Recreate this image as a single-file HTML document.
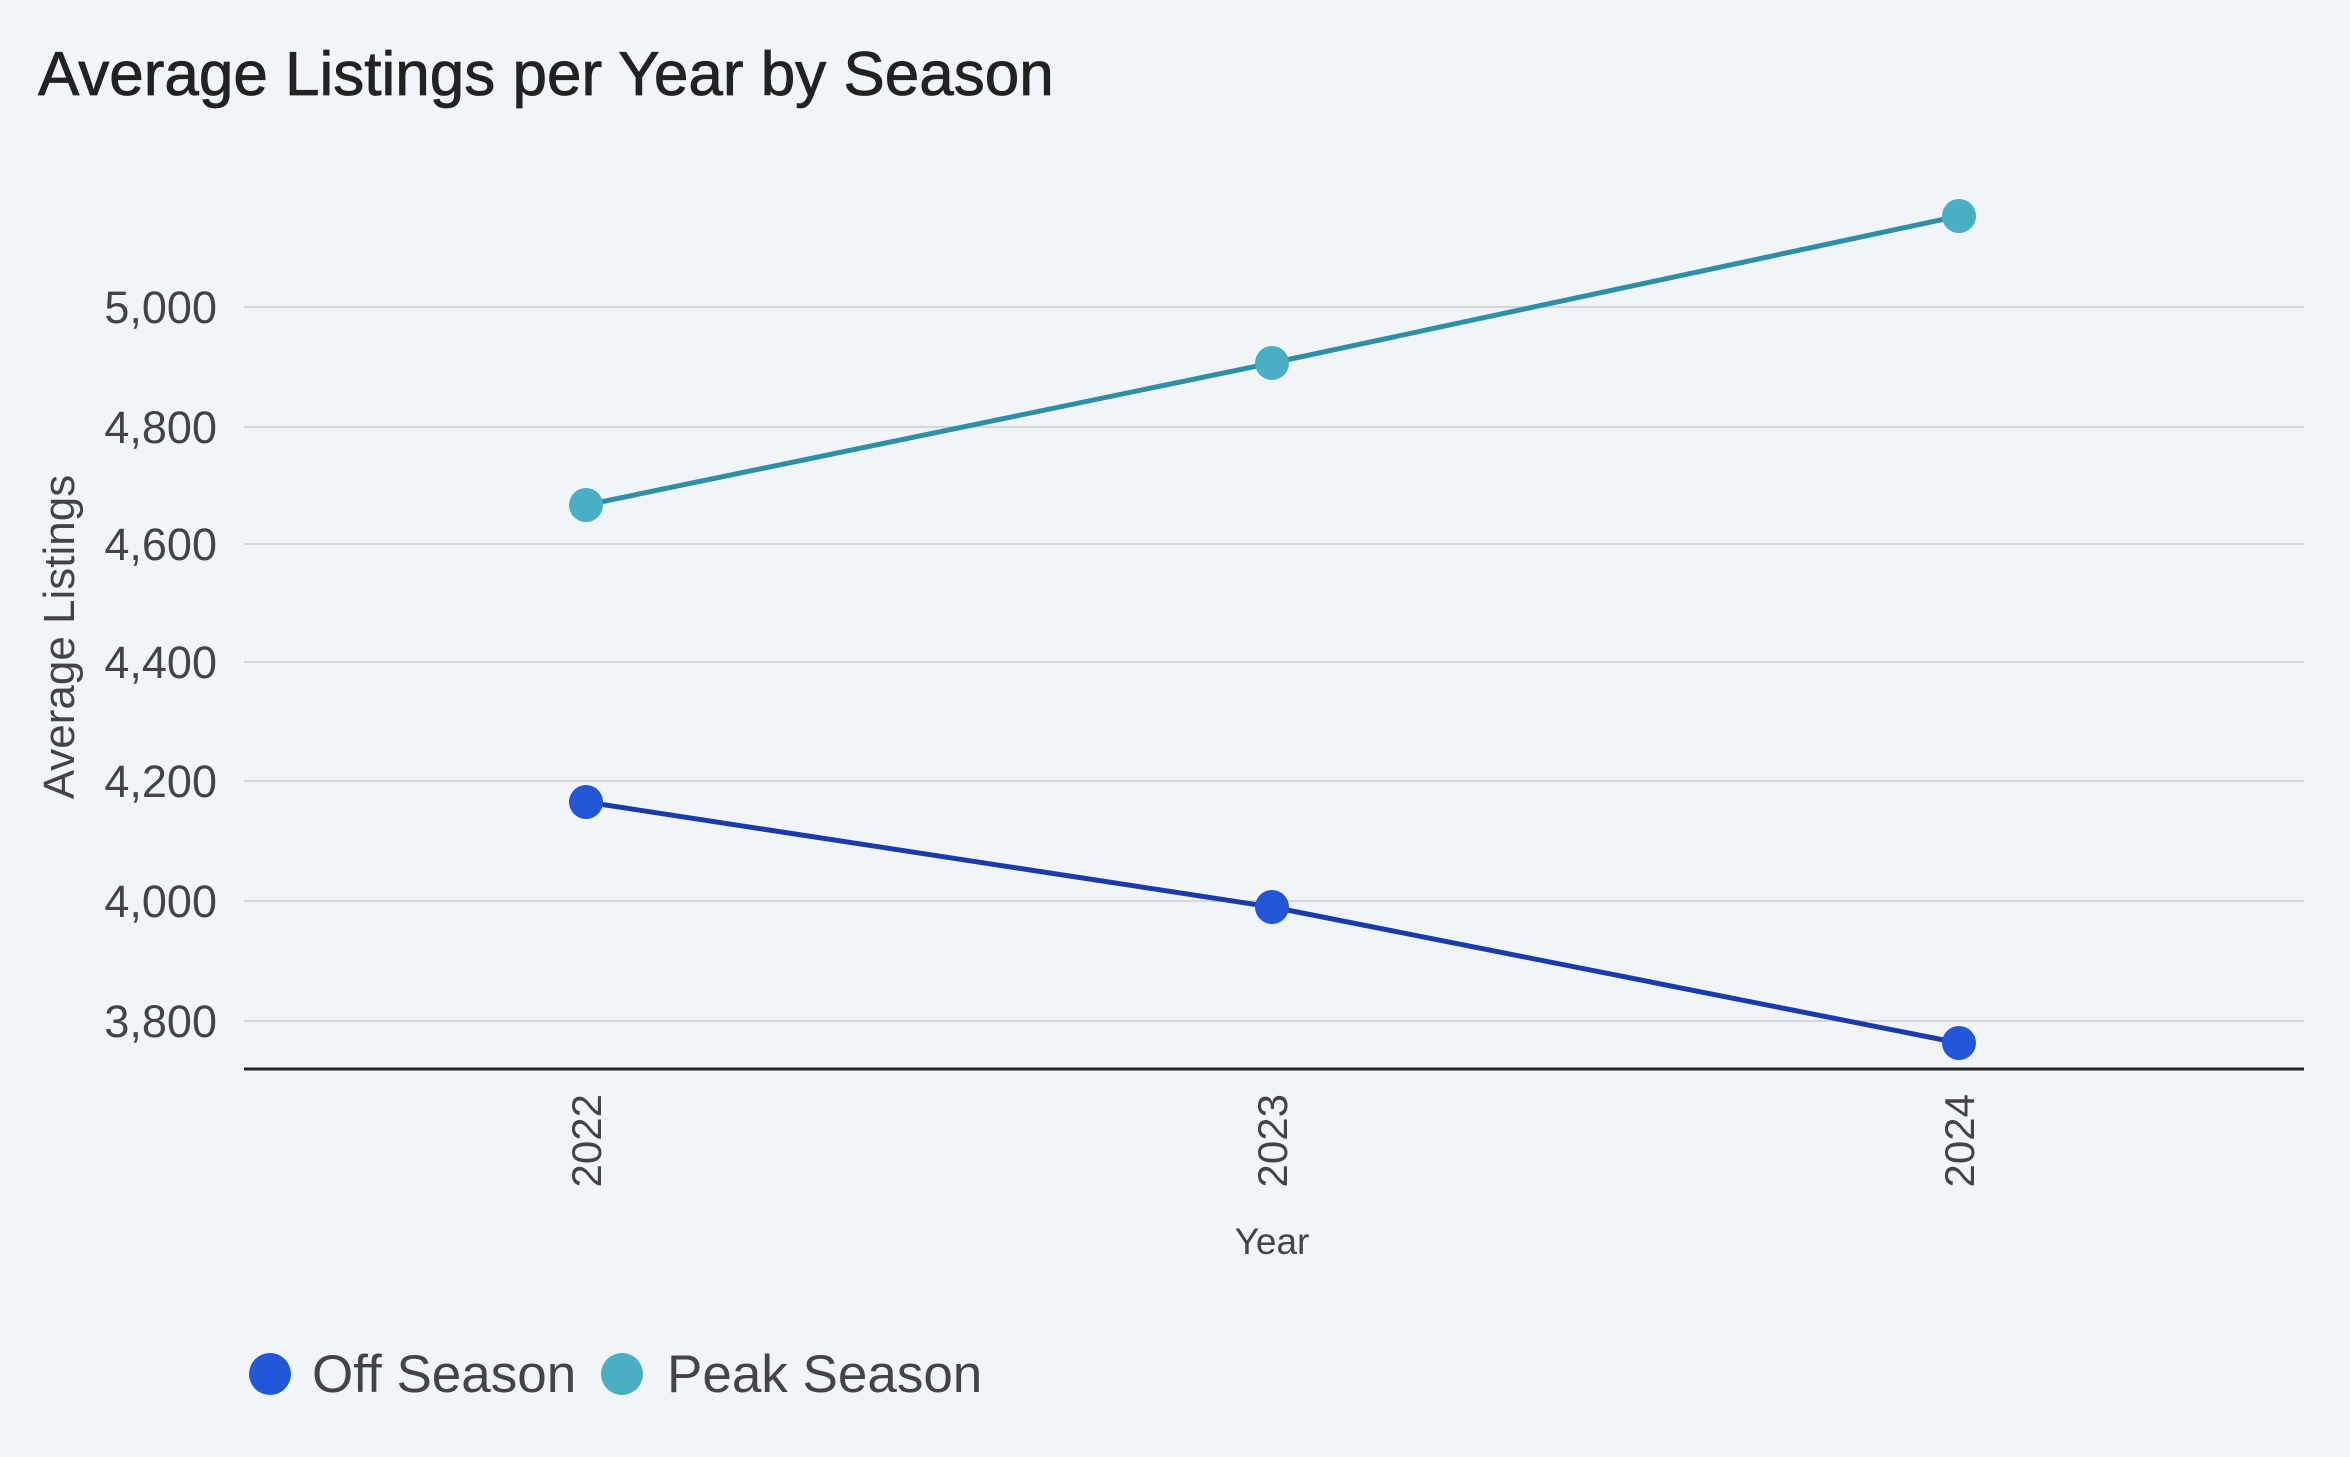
<!DOCTYPE html>
<html><head><style>body{margin:0;background:#f1f5fa;}</style></head><body>
<svg width="2350" height="1452" xmlns="http://www.w3.org/2000/svg" font-family="Liberation Sans, sans-serif">
<rect width="2350" height="1452" fill="#f1f5fa"/>
<text x="38" y="95" font-size="62" fill="#222" stroke="#222" stroke-width="0.8">Average Listings per Year by Season</text>
<g stroke="#d3d6da" stroke-width="2">
<line x1="244" x2="2304" y1="307" y2="307"/><line x1="244" x2="2304" y1="427" y2="427"/>
<line x1="244" x2="2304" y1="544" y2="544"/><line x1="244" x2="2304" y1="662" y2="662"/>
<line x1="244" x2="2304" y1="781" y2="781"/><line x1="244" x2="2304" y1="901" y2="901"/>
<line x1="244" x2="2304" y1="1021" y2="1021"/></g>
<line x1="244" x2="2304" y1="1069" y2="1069" stroke="#222" stroke-width="3"/>
<g font-size="45" fill="#444" text-anchor="end">
<text x="217" y="323">5,000</text><text x="217" y="443">4,800</text><text x="217" y="560">4,600</text>
<text x="217" y="678">4,400</text><text x="217" y="797">4,200</text><text x="217" y="917">4,000</text>
<text x="217" y="1037">3,800</text></g>
<g font-size="42" fill="#444" text-anchor="end">
<text transform="translate(601,1094) rotate(-90)">2022</text>
<text transform="translate(1287,1094) rotate(-90)">2023</text>
<text transform="translate(1974,1094) rotate(-90)">2024</text></g>
<text x="1272" y="1254" font-size="37" fill="#444" text-anchor="middle">Year</text>
<text transform="translate(74,637) rotate(-90)" font-size="44" fill="#444" text-anchor="middle">Average Listings</text>
<polyline points="586,505 1272,363 1959,216" fill="none" stroke="#2e8fa8" stroke-width="5"/>
<polyline points="586,802 1272,907 1959,1043" fill="none" stroke="#1a3bb0" stroke-width="5"/>
<g fill="#4aaec4"><circle cx="586" cy="505" r="17"/><circle cx="1272" cy="363" r="17"/><circle cx="1959" cy="216" r="17"/></g>
<g fill="#2456d8"><circle cx="586" cy="802" r="17"/><circle cx="1272" cy="907" r="17"/><circle cx="1959" cy="1043" r="17"/></g>
<circle cx="270" cy="1374" r="21" fill="#2456d8"/>
<text x="312" y="1392" font-size="53" fill="#444">Off Season</text>
<circle cx="622" cy="1374" r="21" fill="#4aaec4"/>
<text x="667" y="1392" font-size="53" fill="#444">Peak Season</text>
</svg>
</body></html>
